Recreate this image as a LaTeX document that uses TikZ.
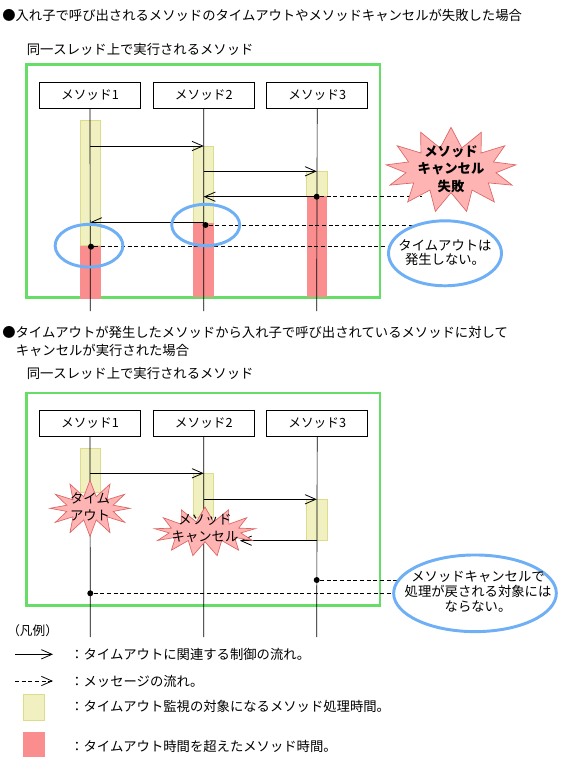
\documentclass[tikz,border=0pt]{standalone}
\usepackage{fontspec}
\setmainfont{Noto Sans CJK JP}
\usetikzlibrary{shapes.symbols,shapes.geometric,arrows.meta}
\definecolor{grn}{RGB}{102,221,102}
\definecolor{blu}{RGB}{110,175,245}
\definecolor{ylwf}{RGB}{240,240,192}
\definecolor{ylwd}{RGB}{220,220,140}
\definecolor{redf}{RGB}{250,142,142}
\definecolor{burstf}{RGB}{255,180,180}
\definecolor{burstd}{RGB}{220,100,100}
\tikzset{
  greenbox/.style={draw=grn, line width=2.2pt},
  hdr/.style={draw=black, fill=white, line width=0.5pt, minimum width=75.75pt, minimum height=19.2pt, inner sep=0pt, font=\fontsize{9.5}{10}\selectfont},
  life/.style={line width=0.5pt},
  waitbar/.style={fill=ylwf, draw=ylwd, line width=0.5pt},
  overbar/.style={fill=redf},
  ctrl/.style={-{Straight Barb[length=8pt,width=7pt]}, line width=0.6pt},
  msg/.style={dash pattern=on 3pt off 2pt, line width=0.6pt},
  msgarrow/.style={dash pattern=on 3pt off 2pt, line width=0.6pt, -{Straight Barb[length=8pt,width=7pt]}},
  dot/.style={circle, fill=black, inner sep=0pt, minimum size=4.5pt},
  ring/.style={ellipse, draw=blu, line width=2.2pt, inner sep=0pt},
  note/.style={ellipse, draw=blu, fill=white, line width=2.2pt, inner sep=0pt},
  burst/.style={starburst, fill=burstf, draw=burstd, line width=0.5pt, random starburst=0, inner sep=0pt},
  txt/.style={inner sep=0pt, font=\fontsize{10}{12}\selectfont},
  ctext/.style={inner sep=0pt, align=center},
}
\begin{document}
\begin{tikzpicture}[x=0.75pt,y=-0.75pt]
\useasboundingbox (0,0) rectangle (567,760);

% ---------------- Section 1 ----------------
\node[txt, anchor=west] (h1) at (2,15) {●入れ子で呼び出されるメソッドのタイムアウトやメソッドキャンセルが失敗した場合};
\node[txt, anchor=west] (s1) at (26.5,49) {同一スレッド上で実行されるメソッド};
\draw[greenbox] (26.5,64.5) rectangle (380,297.5);

% bars
\draw[waitbar] (80,120) rectangle (100.7,245.7);
\fill[overbar] (80,245.7) rectangle (100.7,299);
\draw[waitbar] (193.3,146) rectangle (213.7,223.3);
\fill[overbar] (193.3,223.3) rectangle (213.7,297.3);
\draw[waitbar] (306.7,171.3) rectangle (327.3,196);
\fill[overbar] (306.7,196) rectangle (327.3,297.3);

\node[hdr] (m1) at (90,95.5) {メソッド1};
\node[hdr] (m2) at (203.8,95.5) {メソッド2};
\node[hdr] (m3) at (317.2,95.5) {メソッド3};
\coordinate (e1) at (90.3,311);
\coordinate (e2) at (203.7,311);
\coordinate (e3) at (316.7,311);
\draw[life] (m1.south) -- (e1);
\draw[life] (m2.south) -- (e2);
\draw[life] (m3.south) -- (e3);

% control flows
\coordinate (a1s) at (90.3,146);   \coordinate (a1e) at (203.7,146);
\coordinate (a2s) at (203.7,171.3); \coordinate (a2e) at (316.7,171.3);
\coordinate (a3s) at (316.7,196.7); \coordinate (a3e) at (203.7,196.7);
\coordinate (a4s) at (203.7,222.3); \coordinate (a4e) at (90.3,222.3);
\draw[ctrl] (a1s) -- (a1e);
\draw[ctrl] (a2s) -- (a2e);
\draw[ctrl] (a3s) -- (a3e);
\draw[ctrl] (a4s) -- (a4e);

% messages
\node[dot] (d3) at (316.7,196.7) {};
\node[dot] (d2) at (205.5,225) {};
\node[dot] (d1) at (91,246.7) {};
\coordinate (t3) at (422,196.7);
\coordinate (t2) at (417,225);
\coordinate (t1) at (389,246.7);
\draw[msg] (d3) -- (t3);
\draw[msg] (d2) -- (t2);
\draw[msg] (d1) -- (t1);

\node[ring, minimum width=50.8pt, minimum height=32pt] (r1) at (89,245.7) {};
\node[ring, minimum width=51pt, minimum height=31pt] (r2) at (205.7,225) {};

\node[burst, starburst points=13, starburst point height=15pt, minimum width=98pt, minimum height=64pt] (b1) at (451,170) {};
\node[ctext, font=\bfseries\fontsize{10}{13}\selectfont] (b1t) at (451,169) {メソッド\\キャンセル\\失敗};

\node[note, minimum width=84.75pt, minimum height=48.75pt] (n1) at (445,253.3) {};
\node[ctext, font=\fontsize{10}{10}\selectfont] (n1t) at (445,252.5) {タイムアウトは\\発生しない。};

% ---------------- Section 2 ----------------
\node[txt, anchor=west] (h2a) at (2,332.7) {●タイムアウトが発生したメソッドから入れ子で呼び出されているメソッドに対して};
\node[txt, anchor=west] (h2b) at (15.5,350) {キャンセルが実行された場合};
\node[txt, anchor=west] (s2) at (26.5,373.3) {同一スレッド上で実行されるメソッド};
\draw[greenbox] (26.5,393) rectangle (380,605.5);

\draw[waitbar] (80,448.3) rectangle (100.7,492);
\draw[waitbar] (193.3,473.3) rectangle (213.7,517);
\draw[waitbar] (306.7,499) rectangle (327.3,540.7);

\node[hdr] (k1) at (90,423.3) {メソッド1};
\node[hdr] (k2) at (203.8,423.3) {メソッド2};
\node[hdr] (k3) at (317.2,423.3) {メソッド3};
\coordinate (f1) at (90.3,637);
\coordinate (f2) at (203.7,637);
\coordinate (f3) at (316.7,637);
\draw[life] (k1.south) -- (f1);
\draw[life] (k2.south) -- (f2);
\draw[life] (k3.south) -- (f3);

\coordinate (c1s) at (90.3,473.3);  \coordinate (c1e) at (203.7,473.3);
\coordinate (c2s) at (203.7,499.3); \coordinate (c2e) at (316.7,499.3);
\coordinate (c3s) at (316.7,540.7); \coordinate (c3e) at (240,540.7);
\draw[ctrl] (c1s) -- (c1e);
\draw[ctrl] (c2s) -- (c2e);
\draw[ctrl] (c3s) -- (c3e);

\node[burst, starburst points=12, starburst point height=12pt, minimum width=60pt, minimum height=42pt] (b2) at (90,508.3) {};
\node[ctext, font=\fontsize{10}{12.5}\selectfont] (b2t) at (90,507) {タイム\\アウト};
\node[burst, starburst points=13, starburst point height=11pt, minimum width=76pt, minimum height=37pt] (b3) at (205,531.7) {};
\node[ctext, font=\fontsize{10}{12.5}\selectfont] (b3t) at (205,528.5) {メソッド\\キャンセル};

\node[dot] (g3) at (316.7,580) {};
\node[dot] (g1) at (90.3,593.3) {};
\coordinate (u3) at (400,580);
\coordinate (u1) at (395,593.3);
\draw[msg] (g3) -- (u3);
\draw[msg] (g1) -- (u1);

\node[note, minimum width=122pt, minimum height=57.5pt] (n2) at (475,593.3) {};
\node[ctext, font=\fontsize{10}{11.2}\selectfont] (n2t) at (478,591.5) {メソッドキャンセルで\\処理が戻される対象には\\ならない。};

% ---------------- Legend ----------------
\node[txt, anchor=west, font=\fontsize{9.5}{11}\selectfont] (lg) at (7,630.7) {（凡例）};
\coordinate (l1s) at (15,654.3); \coordinate (l1e) at (53,654.3);
\draw[ctrl] (l1s) -- (l1e);
\node[txt, anchor=west] (l1t) at (70,654.3) {：タイムアウトに関連する制御の流れ。};
\coordinate (l2s) at (15,681); \coordinate (l2e) at (53,681);
\draw[msgarrow] (l2s) -- (l2e);
\node[txt, anchor=west] (l2t) at (70,681) {：メッセージの流れ。};
\draw[waitbar] (23.3,694) rectangle (44.7,720);
\node[txt, anchor=west] (l3t) at (70,706.7) {：タイムアウト監視の対象になるメソッド処理時間。};
\fill[overbar] (23.3,731.7) rectangle (44.7,757);
\node[txt, anchor=west] (l4t) at (70,746) {：タイムアウト時間を超えたメソッド時間。};
\end{tikzpicture}
\end{document}
